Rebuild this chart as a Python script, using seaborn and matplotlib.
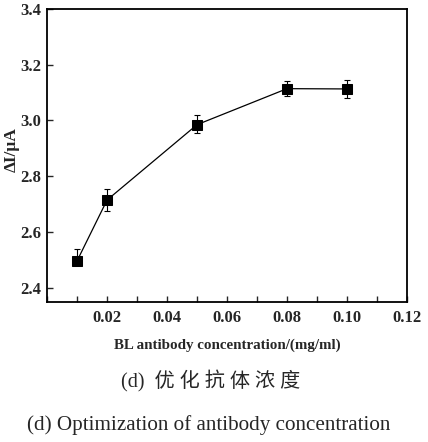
import numpy as np
import matplotlib
matplotlib.use("Agg")
import matplotlib.pyplot as plt
import seaborn as sns
import pandas as pd
from matplotlib.ticker import MultipleLocator

# data
conc = [0.01, 0.02, 0.05, 0.08, 0.10]
delta_i = [2.497, 2.715, 2.985, 3.114, 3.113]
err_low = [0.0, 0.04, 0.031, 0.026, 0.032]
err_high = [0.043, 0.04, 0.033, 0.028, 0.032]

xticks = [0.02, 0.04, 0.06, 0.08, 0.10, 0.12]
yticks = [2.4, 2.6, 2.8, 3.0, 3.2, 3.4]

sns.set_theme(style="ticks")
plt.rcParams["font.family"] = ["Liberation Serif", "DejaVu Serif"]

df = pd.DataFrame({"conc": conc, "dI": delta_i})

fig = plt.figure(figsize=(4.28, 4.42), dpi=100)
ax = fig.add_axes([0.110, 0.317, 0.841, 0.663])

ax.errorbar(conc, delta_i, yerr=[err_low, err_high], fmt="none",
            ecolor="black", elinewidth=0.8, capsize=2.5, capthick=0.8, zorder=2)
sns.lineplot(data=df, x="conc", y="dI", ax=ax, color="black", lw=0.9,
             marker="s", markersize=6.5, markeredgecolor="black",
             markerfacecolor="black", zorder=3)

ax.set_xlim(0, 0.12)
ax.set_ylim(2.35, 3.4)
ax.set_xticks(xticks)
ax.set_yticks(yticks)
ax.xaxis.set_minor_locator(MultipleLocator(0.01))
ax.set_xticklabels([f"{t:.2f}" for t in xticks], fontweight="bold", fontsize=12)
ax.set_yticklabels([f"{t:.1f}" for t in yticks], fontweight="bold", fontsize=12)
ax.tick_params(axis="x", which="both", direction="in", length=4, width=1, pad=6)
ax.tick_params(axis="y", which="both", direction="in", length=4, width=1, pad=4)
for s in ax.spines.values():
    s.set_linewidth(1.3)
    s.set_color("black")

ax.set_xlabel("BL antibody concentration/(mg/ml)", fontweight="bold", fontsize=10.8, labelpad=9)
ax.set_ylabel("ΔI/μA", fontweight="bold", fontsize=12.5)
ax.yaxis.set_label_coords(-0.075, 0.52)

fig.text(0.493, 0.138, "(d)  优 化 抗 体 浓 度", ha="center", va="center", fontsize=14.5,
         family=["Liberation Serif", "Noto Sans CJK SC"])
fig.text(0.488, 0.038, "(d) Optimization of antibody concentration", ha="center",
         va="center", fontsize=15.2, family=["Liberation Serif"])

fig.savefig("out.png", dpi=100)
